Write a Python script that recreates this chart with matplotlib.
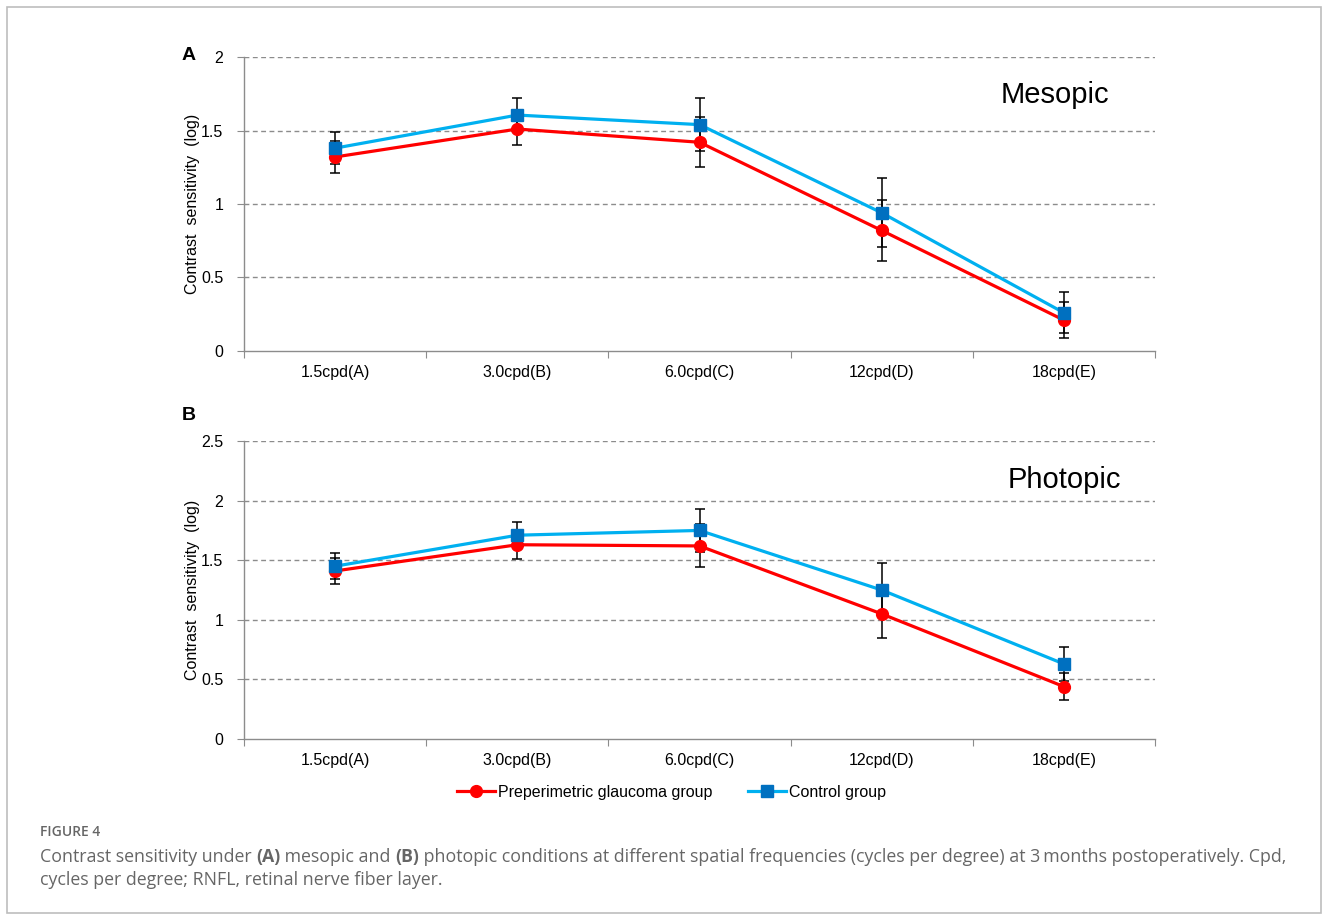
import numpy as np
import matplotlib.pyplot as plt
from matplotlib.patches import Rectangle

plt.rcParams['font.family'] = ['Liberation Sans', 'DejaVu Sans']

# Raumfrequenzen (Kategorien)
kategorien = ["1.5cpd(A)", "3.0cpd(B)", "6.0cpd(C)", "12cpd(D)", "18cpd(E)"]

# Mesopisch (A)
meso_glaukom = [1.32, 1.51, 1.42, 0.82, 0.21]
meso_glaukom_sd = [0.11, 0.11, 0.17, 0.21, 0.12]
meso_kontrolle = [1.38, 1.605, 1.54, 0.94, 0.26]
meso_kontrolle_sd = [0.11, 0.115, 0.18, 0.235, 0.14]

# Photopisch (B)
photo_glaukom = [1.41, 1.63, 1.62, 1.05, 0.44]
photo_glaukom_sd = [0.11, 0.12, 0.18, 0.20, 0.11]
photo_kontrolle = [1.45, 1.71, 1.75, 1.25, 0.63]
photo_kontrolle_sd = [0.11, 0.11, 0.18, 0.23, 0.14]

ROT = "#FF0000"
BLAU_LINIE = "#00B0F0"
BLAU_MARKER = "#0070C0"
GRAU = "#8C8C8C"


def zeichne_panel(ax, glaukom, g_sd, kontrolle, k_sd, ymax, titel, titel_x):
    x = np.arange(len(kategorien))
    ax.set_xlim(-0.5, len(kategorien) - 0.5)
    ax.set_ylim(0, ymax)
    yticks = np.arange(0, ymax + 0.01, 0.5)
    ax.set_yticks(yticks)
    ax.set_yticklabels([f"{v:g}" for v in yticks])
    for v in yticks[1:]:
        ax.axhline(v, color=GRAU, lw=1.0, ls=(0, (3.5, 2.5)), zorder=1)

    # Fehlerbalken
    ax.errorbar(x, glaukom, yerr=g_sd, fmt="none", ecolor="black",
                elinewidth=1.1, capsize=3.5, capthick=1.1, zorder=3)
    ax.errorbar(x, kontrolle, yerr=k_sd, fmt="none", ecolor="black",
                elinewidth=1.1, capsize=3.5, capthick=1.1, zorder=3)

    ax.plot(x, glaukom, color=ROT, lw=2.3, marker="o", ms=8.5,
            mfc=ROT, mec=ROT, zorder=4, label="Preperimetric glaucoma group")
    ax.plot(x, kontrolle, color=BLAU_LINIE, lw=2.3, marker="s", ms=8,
            mfc=BLAU_MARKER, mec=BLAU_MARKER, zorder=5, label="Control group")

    # Ticks an den Kategoriegrenzen, Beschriftung in der Mitte
    ax.set_xticks(np.arange(-0.5, len(kategorien)), labels=[])
    ax.set_xticks(x, labels=kategorien, minor=True)
    ax.tick_params(axis="x", which="major", length=5, color=GRAU, direction="out")
    ax.tick_params(axis="x", which="minor", length=0, pad=10, labelsize=11.5)
    ax.tick_params(axis="y", length=5, color=GRAU, direction="out", labelsize=11.5, pad=10)
    for s in ["top", "right"]:
        ax.spines[s].set_visible(False)
    for s in ["left", "bottom"]:
        ax.spines[s].set_color(GRAU)
        ax.spines[s].set_linewidth(1.0)
    ax.set_ylabel("Contrast  sensitivity  (log)", fontsize=11.5, labelpad=1)
    ax.text(titel_x, 0.87, titel, transform=ax.transAxes, fontsize=21,
            ha="center", va="center")


fig = plt.figure(figsize=(13.3, 9.15), dpi=100)

# Rahmen
fig.add_artist(Rectangle((0.0055, 0.002), 0.988, 0.99, transform=fig.transFigure,
                         fill=False, edgecolor="#BDBDBD", lw=1.2))

ax_a = fig.add_axes([0.1835, 0.6164, 0.6849, 0.3213])
ax_b = fig.add_axes([0.1835, 0.1923, 0.6849, 0.3257])

zeichne_panel(ax_a, meso_glaukom, meso_glaukom_sd, meso_kontrolle, meso_kontrolle_sd,
              2.0, "Mesopic", 0.89)
zeichne_panel(ax_b, photo_glaukom, photo_glaukom_sd, photo_kontrolle, photo_kontrolle_sd,
              2.5, "Photopic", 0.90)

fig.text(189 / 1330, 1 - 55 / 915, "A", fontsize=14, fontweight="bold", ha="center", va="center")
fig.text(189 / 1330, 1 - 415 / 915, "B", fontsize=14, fontweight="bold", ha="center", va="center")

handles, labels = ax_a.get_legend_handles_labels()
fig.legend(handles, labels, loc="center", bbox_to_anchor=(0.505, 1 - 792 / 915),
           ncol=2, frameon=False, fontsize=11.5, handlelength=2.4,
           handletextpad=0.2, columnspacing=2.2)

# Bildunterschrift
cap_font = ["Open Sans", "DejaVu Sans"]
cap_col = "#666666"
fig.text(40 / 1330, 1 - 832 / 915, "FIGURE 4", fontsize=10, color=cap_col,
         family=cap_font, fontweight="semibold", va="center")

t1 = fig.text(40 / 1330, 1 - 857 / 915, "Contrast sensitivity under ", fontsize=12.8,
              color=cap_col, family=cap_font, va="center")
teile = [("(A)", "bold"), (" mesopic and ", "normal"), ("(B)", "bold"),
         (" photopic conditions at different spatial frequencies (cycles per degree) "
          "at 3\u2009months postoperatively. Cpd,", "normal")]
vorher = t1
for txt, gewicht in teile:
    vorher = plt.annotate(txt, xy=(1, 0), xycoords=vorher, va="bottom", ha="left",
                          fontsize=12.8, color=cap_col, family=cap_font,
                          fontweight=gewicht, annotation_clip=False)
fig.text(40 / 1330, 1 - 880 / 915, "cycles per degree; RNFL, retinal nerve fiber layer.",
         fontsize=12.8, color=cap_col, family=cap_font, va="center")

fig.savefig("out.png", dpi=100)
